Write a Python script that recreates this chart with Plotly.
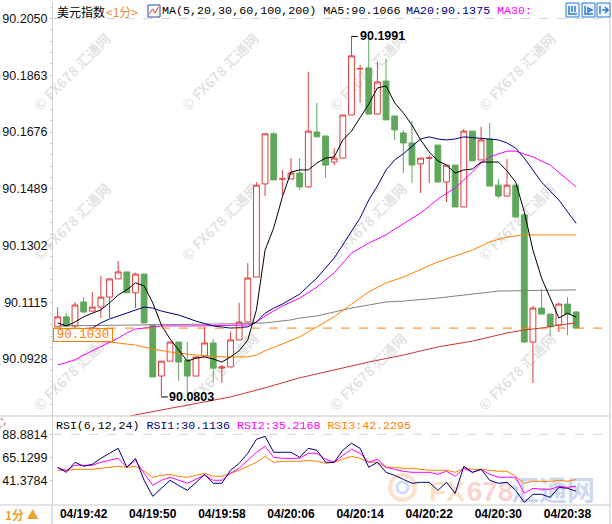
import plotly.graph_objects as go

# ---------------- data ----------------
tick_idx = [3, 11, 19, 27, 35, 43, 51, 59]
tick_labels = ["04/19:42", "04/19:50", "04/19:58", "04/20:06",
               "04/20:14", "04/20:22", "04/20:30", "04/20:38"]
price_ticks = [90.0928, 90.1115, 90.1302, 90.1489, 90.1676, 90.1863, 90.2050]
rsi_ticks = [41.3784, 65.1299, 88.8814]

open_ = [90.1034, 90.1067, 90.1037, 90.1116, 90.1086, 90.1099, 90.1132, 90.1192, 90.1215, 90.1146,
         90.1208, 90.1040, 90.0872, 90.0921, 90.0984, 90.0925, 90.0872, 90.0938, 90.0981, 90.0898,
         90.0902, 90.0991, 90.1050, 90.1198, 90.1505, 90.1670, 90.1521, 90.1521, 90.1541, 90.1495,
         90.1676, 90.1663, 90.1577, 90.1590, 90.1732, 90.1884, 90.1887, 90.1735, 90.1844, 90.1729,
         90.1673, 90.1640, 90.1571, 90.1590, 90.1633, 90.1511, 90.1567, 90.1429, 90.1679, 90.1584,
         90.1653, 90.1501, 90.1465, 90.1501, 90.1403, 90.0984, 90.1096, 90.1076, 90.1040, 90.1109,
         90.1083]
high = [90.1099, 90.1079, 90.1116, 90.1132, 90.1149, 90.1202, 90.1192, 90.1251, 90.1215, 90.1212,
        90.1208, 90.1040, 90.0921, 90.0984, 90.0984, 90.0984, 90.0935, 90.1034, 90.0994, 90.0908,
        90.1017, 90.1113, 90.1244, 90.1511, 90.1670, 90.1676, 90.1551, 90.1590, 90.1590, 90.1874,
        90.1772, 90.1663, 90.1623, 90.1732, 90.1991, 90.1897, 90.1983, 90.1907, 90.1917, 90.1729,
        90.1683, 90.1712, 90.1590, 90.1600, 90.1633, 90.1567, 90.1567, 90.1686, 90.1679, 90.1693,
        90.1706, 90.1521, 90.1587, 90.1501, 90.1403, 90.1103, 90.1159, 90.1076, 90.1113, 90.1132,
        90.1086]
low = [90.1034, 90.1037, 90.1030, 90.1079, 90.1086, 90.1063, 90.1063, 90.1192, 90.1146, 90.1096,
       90.1047, 90.0869, 90.0803, 90.0921, 90.0856, 90.0810, 90.0872, 90.0938, 90.0852, 90.0849,
       90.0902, 90.0991, 90.1050, 90.1198, 90.1465, 90.1518, 90.1469, 90.1521, 90.1485, 90.1495,
       90.1660, 90.1525, 90.1567, 90.1590, 90.1732, 90.1772, 90.1735, 90.1735, 90.1716, 90.1650,
       90.1541, 90.1508, 90.1475, 90.1508, 90.1511, 90.1445, 90.1429, 90.1429, 90.1581, 90.1584,
       90.1498, 90.1459, 90.1465, 90.1396, 90.0981, 90.0849, 90.1076, 90.1004, 90.1017, 90.1007,
       90.1030]
close = [90.1067, 90.1037, 90.1106, 90.1083, 90.1099, 90.1132, 90.1192, 90.1215, 90.1146, 90.1208,
         90.1047, 90.0869, 90.0921, 90.0984, 90.0918, 90.0872, 90.0935, 90.0981, 90.0898, 90.0902,
         90.0991, 90.1050, 90.1195, 90.1501, 90.1670, 90.1518, 90.1522, 90.1541, 90.1495, 90.1679,
         90.1660, 90.1567, 90.1590, 90.1732, 90.1927, 90.1885, 90.1735, 90.1841, 90.1716, 90.1683,
         90.1640, 90.1567, 90.1590, 90.1591, 90.1511, 90.1567, 90.1429, 90.1679, 90.1581, 90.1650,
         90.1498, 90.1465, 90.1501, 90.1396, 90.0984, 90.1096, 90.1076, 90.1034, 90.1109, 90.1076,
         90.1030]
candle_idx = list(range(len(open_)))

ma5 = [90.1047, 90.1037, 90.1050, 90.1067, 90.1079, 90.1090, 90.1113, 90.1139, 90.1156, 90.1179,
       90.1169, 90.1113, 90.1040, 90.0994, 90.0958, 90.0921, 90.0931, 90.0935, 90.0928, 90.0918,
       90.0935, 90.0955, 90.0991, 90.1090, 90.1287, 90.1360, 90.1462, 90.1544, 90.1551, 90.1551,
       90.1574, 90.1590, 90.1594, 90.1650, 90.1679, 90.1722, 90.1768, 90.1821, 90.1828, 90.1772,
       90.1739, 90.1699, 90.1650, 90.1610, 90.1581, 90.1567, 90.1541, 90.1551, 90.1554, 90.1577,
       90.1577, 90.1577, 90.1548, 90.1511, 90.1413, 90.1287, 90.1195, 90.1132, 90.1063, 90.1079,
       90.1066]
ma5_idx = list(range(len(ma5)))

ma20_idx = [0, 2, 4, 5, 6, 7, 9, 10, 11, 12, 14, 16, 18, 20, 22, 23, 24, 25, 26, 28, 30, 32, 33,
            34, 35, 36, 37, 38, 39, 40, 41, 42, 43, 44, 45, 46, 47, 49, 51, 52, 53, 54, 55, 56, 58, 60]
ma20 = [90.1027, 90.1027, 90.1030, 90.1047, 90.1060, 90.1070, 90.1090, 90.1099, 90.1096, 90.1086,
        90.1073, 90.1053, 90.1037, 90.1030, 90.1034, 90.1050, 90.1079, 90.1096, 90.1109, 90.1142,
        90.1195, 90.1261, 90.1304, 90.1347, 90.1393, 90.1452, 90.1498, 90.1551, 90.1584, 90.1604,
        90.1630, 90.1653, 90.1660, 90.1653, 90.1650, 90.1653, 90.1660, 90.1656, 90.1650, 90.1640,
        90.1623, 90.1590, 90.1551, 90.1511, 90.1452, 90.1375]

ma30_idx = [0, 2, 3, 5, 6, 7, 8, 9, 10, 12, 16, 22, 23, 24, 25, 26, 28, 30, 32, 34, 36, 38, 39,
            40, 42, 44, 46, 47, 48, 49, 50, 52, 53, 55, 57, 60]
ma30 = [90.0908, 90.0925, 90.0941, 90.0968, 90.0981, 90.0997, 90.1014, 90.1027, 90.1030, 90.1037,
        90.1037, 90.1040, 90.1050, 90.1070, 90.1086, 90.1103, 90.1129, 90.1165, 90.1212, 90.1277,
        90.1310, 90.1337, 90.1356, 90.1373, 90.1409, 90.1455, 90.1492, 90.1518, 90.1544, 90.1574,
        90.1594, 90.1613, 90.1613, 90.1594, 90.1567, 90.1495]

ma60_idx = [0, 6, 9, 11, 13, 16, 19, 22, 23, 24, 26, 28, 30, 32, 34, 36, 38, 40, 44, 48, 50, 52, 54, 60]
ma60 = [90.0991, 90.0984, 90.0974, 90.0961, 90.0951, 90.0941, 90.0935, 90.0935, 90.0941, 90.0955,
        90.0978, 90.1001, 90.1034, 90.1067, 90.1109, 90.1149, 90.1179, 90.1198, 90.1248, 90.1287,
        90.1314, 90.1330, 90.1337, 90.1337]

ma100_idx = [0, 10, 20, 24, 27, 28, 30, 32, 34, 36, 38, 40, 44, 48, 51, 60]
ma100 = [90.1037, 90.1040, 90.1044, 90.1047, 90.1057, 90.1063, 90.1070, 90.1083, 90.1096, 90.1106,
         90.1116, 90.1119, 90.1129, 90.1142, 90.1152, 90.1156]

ma200_idx = [0, 5, 9, 12, 16, 20, 24, 28, 32, 36, 40, 44, 48, 52, 54, 56, 58, 60]
ma200 = [90.0688, 90.0714, 90.0744, 90.0760, 90.0783, 90.0803, 90.0833, 90.0866, 90.0892, 90.0918,
         90.0941, 90.0968, 90.0987, 90.1014, 90.1024, 90.1030, 90.1040, 90.1047]

rsi1 = [54.8, 49.6, 60.0, 55.8, 57.9, 64.1, 69.3, 74.4, 54.8, 64.1,
        41.4, 24.8, 33.0, 41.4, 36.0, 31.0, 39.0, 47.6, 38.3, 38.3,
        51.7, 58.9, 69.3, 83.7, 86.8, 70.3, 70.3, 70.3, 65.1, 74.4,
        72.4, 60.0, 60.0, 72.4, 79.6, 74.4, 54.8, 60.0, 49.6, 46.5,
        42.4, 38.3, 39.3, 39.3, 31.0, 39.3, 27.9, 55.8, 49.6, 52.7,
        41.4, 38.3, 39.3, 31.0, 18.6, 26.9, 26.9, 23.8, 34.1, 33.1,
        30.1]
rsi2 = [53.8, 51.7, 56.9, 56.9, 56.9, 60.0, 62.0, 64.1, 54.8, 62.0,
        48.6, 36.2, 41.4, 44.5, 41.4, 38.3, 42.4, 46.5, 41.4, 41.4,
        48.6, 53.8, 62.0, 70.3, 76.5, 65.1, 64.1, 64.1, 64.1, 69.3,
        69.3, 63.1, 60.0, 67.2, 73.4, 69.3, 60.0, 63.1, 54.8, 52.7,
        50.7, 49.6, 49.6, 49.6, 47.6, 50.7, 45.5, 53.8, 49.6, 52.7,
        47.6, 44.5, 44.5, 44.5, 27.9, 33.1, 32.1, 32.1, 35.1, 34.1,
        35.2]
rsi3 = [51.7, 51.7, 52.7, 52.7, 52.7, 53.8, 54.8, 55.8, 54.8, 55.8,
        50.7, 44.5, 46.5, 47.6, 45.5, 44.5, 46.5, 48.6, 45.5, 45.5,
        48.6, 51.7, 55.8, 60.0, 66.1, 60.0, 61.0, 61.0, 61.0, 62.0,
        61.0, 58.9, 60.0, 63.1, 66.1, 64.1, 60.0, 60.0, 54.8, 54.8,
        53.8, 53.8, 52.7, 51.7, 51.7, 51.7, 49.6, 53.8, 52.7, 52.7,
        51.7, 50.7, 50.7, 45.5, 38.3, 40.3, 40.3, 40.3, 41.4, 40.3,
        42.2]
rsi_idx = list(range(len(rsi1)))

last_price = 90.1030
peak_idx, peak_val = 34, 90.1991
trough_idx, trough_val = 12, 90.0803

# ---------------- styling ----------------
RED = "#DD3C3A"
GREEN = "#5FA85B"
NAVY = "#000080"
MAGENTA = "#FF00FF"
ORANGE = "#FF8000"
GRAY = "#808080"
MA200C = "#CC3535"

W, H = 612, 524
L, R, T, B = 53, 2, 2, 19
PW, PH = W - L - R, H - T - B
SPLIT = (505 - 416) / PH


def px(X):
    return (X - L) / PW


def py(Y):
    return (H - B - Y) / PH


fig = go.Figure()

fig.add_trace(go.Candlestick(
    x=candle_idx, open=open_, high=high, low=low, close=close,
    increasing=dict(line=dict(color=RED, width=1), fillcolor="white"),
    decreasing=dict(line=dict(color=GREEN, width=1), fillcolor=GREEN),
    whiskerwidth=0, hoverinfo="skip", showlegend=False, xaxis="x", yaxis="y"))

for xs, ys, col in [(ma200_idx, ma200, MA200C), (ma100_idx, ma100, GRAY), (ma60_idx, ma60, ORANGE),
                    (ma30_idx, ma30, MAGENTA), (ma20_idx, ma20, NAVY), (ma5_idx, ma5, "black")]:
    fig.add_trace(go.Scatter(x=xs, y=ys, mode="lines", line=dict(color=col, width=1),
                             hoverinfo="skip", showlegend=False, xaxis="x", yaxis="y"))

for ys, col in [(rsi3, ORANGE), (rsi2, MAGENTA), (rsi1, NAVY)]:
    fig.add_trace(go.Scatter(x=rsi_idx, y=ys, mode="lines", line=dict(color=col, width=1),
                             hoverinfo="skip", showlegend=False, xaxis="x2", yaxis="y2"))

XR = [-0.544, 63.92]
fig.update_layout(
    width=W, height=H, margin=dict(l=L, r=R, t=T, b=B, autoexpand=False),
    paper_bgcolor="white", plot_bgcolor="rgba(0,0,0,0)", showlegend=False,
    boxgap=0.33, boxgroupgap=0, hovermode=False,
    xaxis=dict(domain=[0, 1], range=XR, anchor="y", showticklabels=False, showgrid=False,
               zeroline=False, showline=False, ticks="", rangeslider=dict(visible=False)),
    yaxis=dict(domain=[SPLIT, 1], range=[90.07403, 90.21044], anchor="x",
               tickmode="array", tickvals=price_ticks, ticktext=[f"{v:.4f}" for v in price_ticks],
               showgrid=False, zeroline=False, showline=True, linecolor="#d0d0d0", linewidth=1,
               ticks="outside", ticklen=2, tickcolor="#c4c4c4",
               tickfont=dict(family="Liberation Sans, Arial", size=12.5, color="#111111"),
               minor=dict(ticks="outside", ticklen=2, tickcolor="#cfcfcf",
                          tickmode="linear", tick0=90.0928, dtick=0.00374)),
    xaxis2=dict(domain=[0, 1], range=XR, anchor="y2", tickmode="array", tickvals=tick_idx,
                ticktext=tick_labels, showgrid=False, zeroline=False, showline=False, ticks="",
                tickfont=dict(family="Liberation Sans, Arial", size=12, color="#000000", weight="bold")),
    yaxis2=dict(domain=[0, SPLIT], range=[15.87, 107.78], anchor="x2",
                tickmode="array", tickvals=rsi_ticks, ticktext=[f"{v:.4f}" for v in rsi_ticks],
                showgrid=False, zeroline=False, showline=True, linecolor="#d0d0d0", linewidth=1,
                ticks="outside", ticklen=2, tickcolor="#c4c4c4",
                tickfont=dict(family="Liberation Sans, Arial", size=12.5, color="#111111")),
)

shapes = []
# faint watermarks, drawn behind the traces
WM_X = [73, 221, 369, 518]
WM_Y = [73, 223, 373]
for Yc in WM_Y:
    for Xc in WM_X:
        shapes.append(dict(type="rect", xref="paper", yref="paper",
                           x0=px(Xc - 5), x1=px(Xc + 5), y0=py(Yc + 5), y1=py(Yc - 5),
                           line=dict(width=0, color="rgba(0,0,0,0)"), fillcolor="rgba(0,0,0,0)",
                           layer="below",
                           label=dict(text="© FX678 汇通网", textangle=-45,
                                      font=dict(family="Noto Sans CJK SC, DejaVu Sans", size=14,
                                                color="rgba(150,150,150,0.28)", weight="bold"))))
# big logo in RSI panel
shapes.append(dict(type="circle", xref="paper", yref="paper", x0=px(390), x1=px(415),
                   y0=py(500), y1=py(475), line=dict(width=4, color="rgba(245,170,110,0.35)"),
                   fillcolor="rgba(0,0,0,0)", layer="below"))
shapes.append(dict(type="circle", xref="paper", yref="paper", x0=px(397), x1=px(408),
                   y0=py(493), y1=py(482), line=dict(width=3, color="rgba(110,140,210,0.3)"),
                   fillcolor="rgba(0,0,0,0)", layer="below"))
for txt, xc, col in [("FX", 447, "rgba(250,175,100,0.38)"), ("678", 490, "rgba(240,130,110,0.35)"),
                     ("汇通网", 553, "rgba(100,130,210,0.32)")]:
    shapes.append(dict(type="rect", xref="paper", yref="paper", x0=px(xc - 3), x1=px(xc + 3),
                       y0=py(491), y1=py(485), line=dict(width=0, color="rgba(0,0,0,0)"),
                       fillcolor="rgba(0,0,0,0)", layer="below",
                       label=dict(text=txt, font=dict(family="Liberation Sans, Noto Sans CJK SC",
                                                      size=28, color=col, weight="bold"))))

shapes += [
    # grid / separators
    dict(type="line", xref="paper", yref="y", x0=0, x1=1, y0=90.2050, y1=90.2050,
         line=dict(color="#d6d6d6", width=1, dash="dash")),
    dict(type="line", xref="paper", yref="y2", x0=0, x1=1, y0=88.8814, y1=88.8814,
         line=dict(color="#d6d6d6", width=1, dash="dash")),
    dict(type="line", xref="paper", yref="y", x0=0, x1=1, y0=last_price, y1=last_price,
         line=dict(color=ORANGE, width=1, dash="dash")),
    dict(type="line", xref="paper", yref="paper", x0=px(0), x1=1, y0=SPLIT, y1=SPLIT,
         line=dict(color="#c8c8c8", width=1)),
    dict(type="line", xref="paper", yref="paper", x0=px(0), x1=1, y0=0, y1=0,
         line=dict(color="#c8c8c8", width=1)),
    dict(type="line", xref="paper", yref="paper", x0=1, x1=1, y0=py(H), y1=py(0),
         line=dict(color="#c8c8c8", width=1)),
    dict(type="line", xref="paper", yref="paper", x0=px(52), x1=px(52), y0=0, y1=py(H),
         line=dict(color="#c8c8c8", width=1)),
    # peak / trough markers
    dict(type="line", xref="x", yref="y", x0=peak_idx, x1=peak_idx + 0.75, y0=peak_val, y1=peak_val,
         line=dict(color="black", width=1)),
    dict(type="line", xref="x", yref="y", x0=trough_idx, x1=trough_idx + 0.75, y0=trough_val,
         y1=trough_val, line=dict(color="black", width=1)),
    # header chart icon
    dict(type="rect", xref="paper", yref="paper", x0=px(148), x1=px(160), y0=py(17), y1=py(5),
         line=dict(color="#2844a8", width=1), fillcolor="white"),
    dict(type="path", xref="paper", yref="paper",
         path=f"M {px(149.5)} {py(14)} L {px(152.5)} {py(9)} L {px(155)} {py(13)} L {px(158.5)} {py(7)}",
         line=dict(color="#e03030", width=1)),
    # red circle icon at left of RSI panel
    dict(type="circle", xref="paper", yref="paper", x0=px(-3), x1=px(5), y0=py(427), y1=py(419),
         line=dict(color="#e03030", width=1, dash="dot")),
]
# toolbar icons top right
for x0 in [566, 582, 597]:
    shapes.append(dict(type="rect", xref="paper", yref="paper", x0=px(x0), x1=px(x0 + 13),
                       y0=py(17), y1=py(3), line=dict(color="#2a7bd6", width=1),
                       fillcolor="#eef5fd"))
shapes.append(dict(type="path", xref="paper", yref="paper",
                   path=f"M {px(569)} {py(6)} L {px(569)} {py(14)} L {px(577)} {py(14)} "
                        f"M {px(572)} {py(6)} L {px(572)} {py(12)} M {px(575)} {py(6)} L {px(575)} {py(12)}",
                   line=dict(color="#2a7bd6", width=1.5)))
shapes.append(dict(type="path", xref="paper", yref="paper",
                   path=f"M {px(585)} {py(6)} L {px(585)} {py(14)} L {px(593)} {py(14)} "
                        f"M {px(588)} {py(8)} L {px(588)} {py(12)} L {px(592)} {py(10)} Z",
                   line=dict(color="#2a7bd6", width=1.5)))
shapes.append(dict(type="path", xref="paper", yref="paper",
                   path=f"M {px(600)} {py(6)} L {px(600)} {py(14)} M {px(602)} {py(10)} L {px(608)} {py(10)} "
                        f"M {px(605)} {py(7)} L {px(608)} {py(10)} L {px(605)} {py(13)}",
                   line=dict(color="#2a7bd6", width=1.5)))
fig.update_layout(shapes=shapes)

MONO = "Liberation Mono, DejaVu Sans Mono, monospace"
CJK = "Noto Sans CJK SC, Noto Sans, sans-serif"
annotations = [
    dict(xref="paper", yref="paper", x=px(55), y=py(11), xanchor="left", yanchor="middle",
         text="美元指数", showarrow=False, font=dict(family=CJK, size=12, color="black")),
    dict(xref="paper", yref="paper", x=px(104), y=py(11), xanchor="left", yanchor="middle",
         text="&lt;1分&gt;", showarrow=False, font=dict(family=CJK, size=12, color="#F08C1E")),
    dict(xref="paper", yref="paper", x=px(160), y=py(11), xanchor="left", yanchor="middle",
         text="MA(5,20,30,60,100,200) MA5:90.1066", showarrow=False,
         font=dict(family=MONO, size=11.7, color="black")),
    dict(xref="paper", yref="paper", x=px(404), y=py(11), xanchor="left", yanchor="middle",
         text="MA20:90.1375", showarrow=False, font=dict(family=MONO, size=11.7, color=NAVY)),
    dict(xref="paper", yref="paper", x=px(495), y=py(11), xanchor="left", yanchor="middle",
         text="MA30:", showarrow=False, font=dict(family=MONO, size=11.7, color=MAGENTA)),
    dict(xref="paper", yref="paper", x=px(54), y=py(425), xanchor="left", yanchor="middle",
         text=("RSI(6,12,24) "
               f"<span style='color:{NAVY}'>RSI1:30.1136</span> "
               f"<span style='color:{MAGENTA}'>RSI2:35.2168</span> "
               f"<span style='color:{ORANGE}'>RSI3:42.2295</span>"),
         showarrow=False, font=dict(family=MONO, size=11.6, color="black")),
    dict(xref="paper", yref="y", x=0, y=last_price, xanchor="left", yanchor="top",
         text=f"{last_price:.4f}", showarrow=False, width=58, height=12, borderpad=0,
         bordercolor=ORANGE, borderwidth=1, bgcolor="white", align="center",
         font=dict(family=MONO, size=12.5, color=ORANGE)),
    dict(xref="x", yref="y", x=peak_idx + 0.7, y=peak_val, xanchor="left", yanchor="middle",
         text=f"{peak_val:.4f}", showarrow=False,
         font=dict(family="Liberation Sans, Arial", size=12.5, color="black", weight="bold")),
    dict(xref="x", yref="y", x=trough_idx + 0.7, y=trough_val, xanchor="left", yanchor="middle",
         text=f"{trough_val:.4f}", showarrow=False,
         font=dict(family="Liberation Sans, Arial", size=12.5, color="black", weight="bold")),
    dict(xref="paper", yref="paper", x=px(3), y=py(514), xanchor="left", yanchor="middle",
         text="1分 ▲", showarrow=False, font=dict(family=CJK, size=12, color="#F0A030", weight="bold")),
]
fig.update_layout(annotations=annotations)

fig.write_html("out.html", config={"displayModeBar": False},
               post_script="document.body.style.margin='0px';document.body.style.padding='0px';")
